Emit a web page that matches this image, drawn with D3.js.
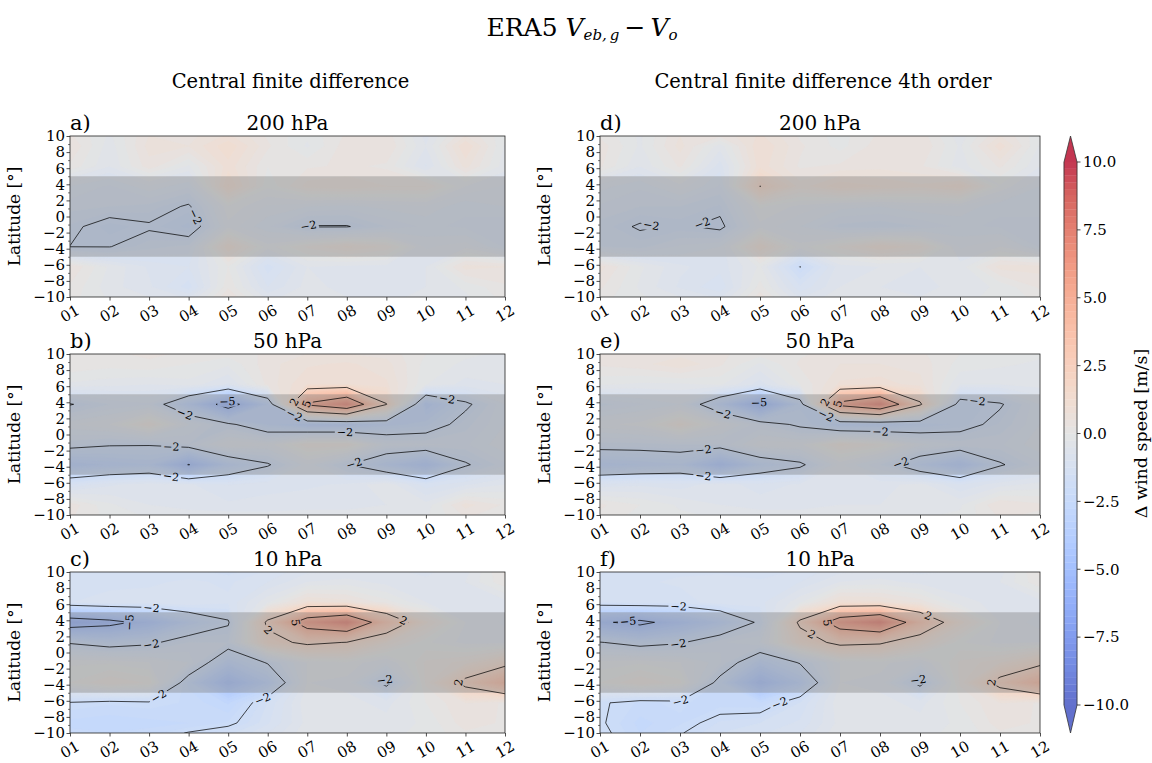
<!DOCTYPE html>
<html>
<head>
<meta charset="utf-8">
<script src="https://cdn.jsdelivr.net/npm/d3@7"></script>
<style>
  body { margin: 0; background: #fff; }
  svg text { font-family: "DejaVu Serif", serif; fill: #000; }
</style>
</head>
<body>
<svg id="chart" width="1152" height="763"></svg>
<script>
// ---- data -------------------------------------------------------------
const months = ["01","02","03","04","05","06","07","08","09","10","11","12"];
const monthNums = d3.range(1, 13);
// latitude of each grid row (top row first)
const lats = [10, 8.75, 6.25, 3.75, 1.25, -1.25, -3.75, -6.25, -8.75, -10];
const latTicks = d3.range(-10, 11, 2);
const latMinor = d3.range(-9, 10, 2);
const fillLevels = d3.range(0, 81).map(i => -10 + i * 0.25);
const lineLevels = [-5, -2, 2, 5];
const cbarTicks = [-10, -7.5, -5, -2.5, 0, 2.5, 5, 7.5, 10];
const bandLats = [-5, 5];
const columnTitles = ["Central finite difference", "Central finite difference 4th order"];
const levelTitles = ["200 hPa", "50 hPa", "10 hPa"];
const letters = ["a)", "b)", "c)", "d)", "e)", "f)"];

// V_eb,g - V_o [m/s], rows = lats, columns = months
const cfd200 = [
  [ 0.3, -0.3,  0.5,  0.4,  0.8,  0.2, -0.2,  0.3,  0.4, -0.6,  0.5, -0.2],
  [ 0.5, -0.4,  0.6,  0.5,  1.2,  0.3, -0.3,  0.4,  0.5, -0.5,  1.0, -0.3],
  [ 0.2, -0.5,  0.4, -0.3,  0.9,  0.0,  0.2,  0.3,  0.2, -0.8,  0.6, -0.4],
  [-1.0, -1.3, -0.8, -1.2,  1.3, -0.2,  0.6,  0.7,  0.5,  0.5, -0.5, -0.8],
  [-1.4, -1.5, -1.6, -2.1, -0.3, -0.8, -1.0, -1.1, -0.9, -0.8, -1.2, -1.0],
  [-1.8, -2.4, -2.1, -2.6, -0.6, -1.2, -2.05,-2.05,-1.5, -1.2, -1.3, -1.5],
  [-2.01,-2.02,-1.6, -1.4,  1.0, -0.4,  0.3,  0.8,  0.4, -0.8, -0.6, -1.3],
  [ 0.5, -0.3, -0.8, -1.0,  0.0, -1.4, -0.5, -0.6, -0.6, -0.5,  0.6,  0.5],
  [ 0.2, -0.4, -0.7, -1.4,  0.2, -1.0, -0.4, -0.6, -0.7, -0.5, -0.2,  0.2],
  [ 0.1, -0.3, -0.5, -0.8,  0.5, -0.6, -0.3, -0.5, -0.6, -0.4, -0.3,  0.1]
];
const cfd50 = [
  [ 0.2,  0.2,  0.3,  0.2,  0.1,  0.3,  0.5,  0.5,  0.4,  0.0, -0.2, -0.3],
  [ 0.2,  0.1,  0.2,  0.0, -0.2,  0.4,  0.7,  0.8,  0.6, -0.1, -0.3, -0.4],
  [-0.3, -0.4, -0.5, -0.34,-0.8,  0.33, 1.0,  1.0,  0.8, -0.24,-0.6, -0.5],
  [-2.05,-1.5, -1.3, -3.2, -5.8, -3.0,  5.3,  7.2,  2.05,-3.5, -2.2, -1.0],
  [-0.8, -0.5,  0.5, -0.98,-1.8, -2.8, -3.5, -3.5, -2.9, -2.6, -1.6, -1.0],
  [-1.67,-1.92,-1.95,-1.51,-0.5, -0.7,  0.45, 0.45,-1.15,-1.2, -1.3, -0.8],
  [-3.5, -3.2, -3.0, -5.05,-3.0, -2.1, -0.8, -1.95,-3.0, -4.0, -2.1, -1.3],
  [-1.23,-0.8, -0.62,-0.71,-1.0, -0.8, -0.8, -0.7, -0.3, -1.14,-0.8, -0.5],
  [ 0.4, -0.2, -0.5, -0.6, -0.7, -0.7, -0.6, -0.6, -0.5, -0.4,  0.6,  0.2],
  [ 0.3, -0.1, -0.3, -0.4, -0.4, -0.4, -0.4, -0.4, -0.3, -0.3,  0.3,  0.1]
];
const cfd10 = [
  [-1.5, -1.5, -1.5, -1.4, -1.6, -1.2, -0.8, -0.7, -0.7, -0.8, -0.6,  0.3],
  [-1.4, -1.4, -1.3, -1.2, -1.3, -1.0, -0.5, -0.4, -0.6, -0.7, -0.5,  0.2],
  [-1.27,-1.05,-1.12,-1.0, -1.2, -0.3,  0.82, 0.63, 0.1, -0.5, -0.7, -0.6],
  [-6.0, -5.5, -4.5, -3.0, -2.1,  2.3,  6.2,  7.5,  3.5,  0.82,-0.5, -0.8],
  [-2.1, -2.5, -2.2, -1.48,-1.5,  1.5,  2.3,  1.95, 0.72,-0.2, -0.6, -0.6],
  [-0.3, -0.3, -0.5, -1.0, -3.0, -1.92,-0.5, -0.3, -0.8,  0.3,  0.6,  1.5],
  [ 0.0,  0.5,  0.2, -2.6, -4.8, -3.2, -0.5, -0.6, -2.3,  0.3,  2.4,  4.2],
  [-2.05,-2.2, -2.1, -2.3, -2.8, -1.49,-0.3, -0.4, -0.6,  0.0,  0.5,  0.2],
  [-2.6, -2.7, -2.6, -2.5, -2.2, -1.3, -0.4, -0.3, -0.4, -0.2,  0.4,  0.2],
  [-2.4, -2.5, -2.4, -1.95,-1.6, -1.0, -0.3, -0.3, -0.3, -0.2,  0.2,  0.1]
];
const cfd4th200 = [
  [ 0.2, -0.3,  0.5,  0.3,  0.8,  0.2, -0.1,  0.3,  0.4, -0.4,  0.5, -0.2],
  [ 0.4, -0.3,  0.6, -0.4,  1.0,  0.3, -0.1,  0.4,  0.5, -0.3,  0.9, -0.3],
  [ 0.3, -0.5,  0.3, -0.9,  0.9,  0.2,  0.3,  0.4,  0.3, -0.4,  0.3, -0.5],
  [-0.9, -1.2, -0.6, -1.3,  2.02, 0.6,  1.2,  1.0,  0.8,  1.2, -0.3, -1.0],
  [-1.3, -1.5, -1.5, -1.8, -0.2, -0.6, -0.9, -1.0, -0.8, -0.8, -1.2, -1.1],
  [-1.6, -2.1, -1.9, -2.2, -0.6, -1.0, -1.6, -1.7, -1.5, -1.2, -1.3, -1.4],
  [-1.5, -1.6, -1.2, -1.0,  1.0, -0.4,  0.3,  1.0,  0.6, -0.8, -0.5, -1.3],
  [ 0.6, -0.2, -0.7, -0.9, -0.2, -2.02,-0.6, -0.5, -0.5, -0.4,  0.6,  0.6],
  [ 0.3, -0.3, -0.8, -1.2,  0.1, -1.2, -0.5, -0.5, -0.6, -0.4, -0.2,  0.3],
  [ 0.1, -0.2, -0.5, -0.8,  0.4, -0.8, -0.3, -0.4, -0.5, -0.3, -0.2,  0.1]
];
const cfd4th50 = [
  [ 0.3,  0.3,  0.4,  0.3,  0.1,  0.2,  0.4,  0.4,  0.3,  0.0, -0.2, -0.2],
  [ 0.3,  0.4,  0.7,  0.3, -0.3,  0.3,  0.5,  0.5,  0.4, -0.1, -0.2, -0.3],
  [-0.2, -0.3, -0.3, -0.2, -0.9,  0.0,  0.8,  0.9,  0.6, -0.5, -0.5, -0.4],
  [-1.6, -1.3, -1.0, -3.0, -5.5, -2.6,  5.6,  7.5,  2.2, -2.5, -2.1, -1.0],
  [-0.6, -0.4,  0.6, -0.5, -1.45,-2.2, -3.2, -3.2, -2.8, -2.4, -1.7, -1.0],
  [-1.6, -1.6, -1.5, -1.5, -0.6, -0.6,  0.6,  0.2, -0.9, -1.3, -1.3, -0.8],
  [-3.2, -3.0, -2.8, -4.5, -2.8, -2.2, -0.7, -1.5, -2.8, -3.8, -2.1, -1.3],
  [-0.9, -0.8, -0.9, -0.6, -0.9, -0.7, -0.7, -0.6, -0.4, -1.0, -0.6, -0.4],
  [ 0.3,  0.0, -0.3, -0.5, -0.6, -0.6, -0.5, -0.5, -0.4, -0.3,  0.5,  0.3],
  [ 0.2, -0.1, -0.2, -0.3, -0.4, -0.4, -0.4, -0.4, -0.3, -0.2,  0.3,  0.2]
];
const cfd4th10 = [
  [-1.4, -1.4, -1.3, -1.3, -1.4, -1.2, -0.8, -0.7, -0.8, -0.7, -0.6,  0.3],
  [-1.3, -1.3, -1.2, -1.1, -1.2, -1.0, -0.5, -0.4, -0.6, -0.7, -0.5,  0.2],
  [-1.5, -1.3, -1.4, -1.1, -1.1, -0.3,  0.9,  0.8,  0.4, -0.4, -0.6, -0.6],
  [-4.8, -5.4, -4.3, -3.2, -1.8,  2.3,  6.3,  7.6,  3.6,  0.9, -0.5, -0.9],
  [-1.95,-2.4, -2.1, -1.3, -1.0,  1.2,  2.4,  2.2,  1.0, -0.2, -0.6, -0.5],
  [-0.4, -0.3, -0.5, -1.2, -3.0, -1.92,-0.5, -0.4, -0.8,  0.3,  0.7,  1.6],
  [ 0.0,  0.5,  0.1, -2.4, -4.8, -3.2, -0.5, -0.6, -2.3,  0.3,  2.5,  4.3],
  [-1.9, -2.3, -2.2, -2.4, -2.5, -1.5, -0.3, -0.4, -0.6,  0.0,  0.5,  0.2],
  [-1.9, -2.6, -2.3, -1.7, -1.5, -1.2, -0.4, -0.3, -0.4, -0.2,  0.4,  0.2],
  [-1.8, -2.5, -2.05,-1.5, -1.3, -1.0, -0.3, -0.3, -0.3, -0.2,  0.2,  0.1]
];

// ---- colour map (cool-warm diverging) --------------------------------
const coolwarmStops = [
  [59,76,192],[77,104,215],[98,130,234],[119,154,247],[141,176,254],
  [163,194,255],[184,208,249],[204,217,238],[221,221,221],[236,211,197],
  [245,196,173],[247,177,148],[244,154,123],[236,127,99],[222,96,77],
  [203,62,56],[180,4,38]
];
const cmap = d3.piecewise(d3.interpolateRgb, coolwarmStops.map(c => `rgb(${c})`));
const norm = d3.scaleLinear().domain([-10, 10]).range([0, 1]).clamp(true);
const fillAlpha = 0.8;
const colorOf = v => d3.interpolateRgb("#ffffff", cmap(norm(v)))(fillAlpha);
const minus = s => String(s).replace("-", "\u2212");

// ---- layout -------------------------------------------------------------
const svg = d3.select("#chart");
const colX = [[70, 505], [600, 1040]];
const rowY = [[136, 297], [354, 515], [572, 733]];
const defs = svg.append("defs");
const tickFont = 15;

const panels = [
  {data: cfd200,    col: 0, row: 0},
  {data: cfd50,     col: 0, row: 1},
  {data: cfd10,     col: 0, row: 2},
  {data: cfd4th200, col: 1, row: 0},
  {data: cfd4th50,  col: 1, row: 1},
  {data: cfd4th10,  col: 1, row: 2}
];

// split a closed contour ring into open polylines, dropping the pieces
// that run along the edge of the data domain
function ringToLines(pts) {
  const onEdge = (a, b) =>
    (a[0] === 1 && b[0] === 1) || (a[0] === 12 && b[0] === 12) ||
    (a[1] === 10 && b[1] === 10) || (a[1] === -10 && b[1] === -10);
  const n = pts.length - 1;
  let start = -1;
  for (let i = 0; i < n; i++) if (onEdge(pts[i], pts[i + 1])) { start = i; break; }
  if (start < 0) return [pts];
  const out = [];
  let cur = [];
  for (let k = 0; k < n; k++) {
    const i = (start + 1 + k) % n;
    if (onEdge(pts[i], pts[i + 1])) {
      if (cur.length > 1) out.push(cur);
      cur = [];
    } else {
      if (!cur.length) cur.push(pts[i]);
      cur.push(pts[i + 1]);
    }
  }
  if (cur.length > 1) out.push(cur);
  return out;
}

function placeLabels(px, level, labelG, maskG) {
  const cum = [0];
  for (let i = 1; i < px.length; i++)
    cum.push(cum[i - 1] + Math.hypot(px[i][0] - px[i - 1][0], px[i][1] - px[i - 1][1]));
  const total = cum[cum.length - 1];
  if (total < 26) return;
  const at = t => {
    t = Math.max(0, Math.min(total, t));
    let i = d3.bisectRight(cum, t) - 1;
    i = Math.max(0, Math.min(px.length - 2, i));
    const seg = cum[i + 1] - cum[i] || 1;
    const f = (t - cum[i]) / seg;
    return [px[i][0] + f * (px[i + 1][0] - px[i][0]), px[i][1] + f * (px[i + 1][1] - px[i][1])];
  };
  const count = Math.max(1, Math.floor(total / 150));
  for (let k = 0; k < count; k++) {
    const t = total * (k + 0.5) / count;
    const p = at(t), a = at(t - 6), b = at(t + 6);
    let ang = Math.atan2(b[1] - a[1], b[0] - a[0]) * 180 / Math.PI;
    if (ang > 90) ang -= 180;
    if (ang < -90) ang += 180;
    const tr = `translate(${p[0]},${p[1]}) rotate(${ang})`;
    const txt = labelG.append("text")
      .attr("transform", tr)
      .attr("text-anchor", "middle")
      .attr("dy", "0.36em")
      .attr("font-size", 11)
      .text(minus(level));
    const w = txt.node().getComputedTextLength();
    maskG.append("rect")
      .attr("x", -w / 2 - 2).attr("y", -5.5)
      .attr("width", w + 4).attr("height", 11)
      .attr("transform", tr)
      .attr("fill", "#000");
  }
}

panels.forEach((p, idx) => {
  const [x0, x1] = colX[p.col];
  const [y0, y1] = rowY[p.row];
  const x = d3.scaleLinear().domain([1, 12]).range([x0, x1]);
  const y = d3.scaleLinear().domain([-10, 10]).range([y1, y0]);
  const nx = months.length, ny = lats.length;
  // grid coordinates -> month / latitude
  const colS = d3.scaleLinear().domain([0.5, nx - 0.5]).range([1, 12]).clamp(true);
  const rowS = d3.scaleLinear().domain(d3.range(ny).map(i => i + 0.5)).range(lats).clamp(true);
  const values = p.data.flat();
  const gen = d3.contours().size([nx, ny]);
  const proj = d3.geoTransform({
    point(gx, gy) { this.stream.point(x(colS(gx)), y(rowS(gy))); }
  });
  const path = d3.geoPath(proj);

  const clipId = `clip${idx}`;
  defs.append("clipPath").attr("id", clipId)
    .append("rect").attr("x", x0).attr("y", y0).attr("width", x1 - x0).attr("height", y1 - y0);

  const g = svg.append("g");
  const fills = g.append("g").attr("clip-path", `url(#${clipId})`);
  fillLevels.slice(0, -1).forEach(t => {
    const c = gen.contour(values, t);
    if (!c.coordinates.length) return;
    const col = colorOf(t + 0.125);
    fills.append("path").attr("d", path(c))
      .attr("fill", col).attr("stroke", col).attr("stroke-width", 0.4);
  });

  // equatorial band
  g.append("rect")
    .attr("x", x0).attr("width", x1 - x0)
    .attr("y", y(bandLats[1])).attr("height", y(bandLats[0]) - y(bandLats[1]))
    .attr("fill", "#808080").attr("fill-opacity", 0.4);

  // contour lines with inline labels
  const maskId = `mask${idx}`;
  const mask = defs.append("mask").attr("id", maskId)
    .attr("maskUnits", "userSpaceOnUse")
    .attr("x", 0).attr("y", 0).attr("width", 1152).attr("height", 763);
  mask.append("rect").attr("width", 1152).attr("height", 763).attr("fill", "#fff");
  const lineWrap = g.append("g").attr("clip-path", `url(#${clipId})`);
  const lines = lineWrap.append("g").attr("mask", `url(#${maskId})`);
  const labelG = g.append("g");
  const lineGen = d3.line();
  lineLevels.forEach(L => {
    const c = gen.contour(values, L);
    c.coordinates.forEach(poly => poly.forEach(ring => {
      const pts = ring.map(([gx, gy]) => [colS(gx), rowS(gy)]);
      ringToLines(pts).forEach(ln => {
        const px = ln.map(([m, l]) => [x(m), y(l)]);
        lines.append("path").attr("d", lineGen(px))
          .attr("fill", "none").attr("stroke", "#000")
          .attr("stroke-width", 0.9).attr("stroke-opacity", 0.8);
        placeLabels(px, L, labelG, mask);
      });
    }));
  });

  // axes
  const xAxis = d3.axisBottom(x).tickValues(monthNums)
    .tickFormat((d, i) => months[i]).tickSize(3.5).tickSizeOuter(0);
  const gx = g.append("g").attr("transform", `translate(0,${y1})`).call(xAxis);
  gx.select(".domain").remove();
  gx.selectAll("line").attr("stroke", "#222").attr("stroke-width", 0.8);
  gx.selectAll("text")
    .attr("font-family", "DejaVu Serif").attr("font-size", tickFont)
    .attr("text-anchor", "end").attr("y", 0).attr("dy", "0.71em")
    .attr("transform", "translate(5,7) rotate(-30)");

  const yAxis = d3.axisLeft(y).tickValues(latTicks)
    .tickFormat(d => minus(d)).tickSize(3.5).tickSizeOuter(0);
  const gy = g.append("g").attr("transform", `translate(${x0},0)`).call(yAxis);
  gy.select(".domain").remove();
  gy.selectAll("line").attr("stroke", "#222").attr("stroke-width", 0.8);
  gy.selectAll("text").attr("font-family", "DejaVu Serif").attr("font-size", tickFont).attr("x", -5);

  const gyMinor = g.append("g").attr("transform", `translate(${x0},0)`)
    .call(d3.axisLeft(y).tickValues(latMinor).tickFormat("").tickSize(2).tickSizeOuter(0));
  gyMinor.select(".domain").remove();
  gyMinor.selectAll("line").attr("stroke", "#222").attr("stroke-width", 0.6);

  g.append("rect").attr("x", x0).attr("y", y0)
    .attr("width", x1 - x0).attr("height", y1 - y0)
    .attr("fill", "none").attr("stroke", "#222").attr("stroke-width", 0.8);

  g.append("text")
    .attr("transform", `translate(${x0 - 50},${(y0 + y1) / 2}) rotate(-90)`)
    .attr("text-anchor", "middle").attr("font-size", 17)
    .text("Latitude [°]");

  g.append("text").attr("x", (x0 + x1) / 2).attr("y", y0 - 6)
    .attr("text-anchor", "middle").attr("font-size", 20)
    .text(levelTitles[p.row]);
  g.append("text").attr("x", x0).attr("y", y0 - 6)
    .attr("font-size", 21)
    .text(letters[idx]);
});

// column headings
colX.forEach(([x0, x1], i) => {
  svg.append("text").attr("x", (x0 + x1) / 2 + 3).attr("y", 88)
    .attr("text-anchor", "middle").attr("font-size", 19.5)
    .text(columnTitles[i]);
});

// main title
const title = svg.append("text").attr("x", 582).attr("y", 36)
  .attr("text-anchor", "middle").attr("font-size", 25);
title.append("tspan").text("ERA5 ");
title.append("tspan").attr("font-style", "italic").text("V");
title.append("tspan").attr("font-style", "italic").attr("font-size", 15).attr("dy", 4).text("eb,\u2009g");
title.append("tspan").attr("dy", -4).text("\u2009\u2212\u2009");
title.append("tspan").attr("font-style", "italic").text("V");
title.append("tspan").attr("font-style", "italic").attr("font-size", 15).attr("dy", 4).text("o");

// ---- colour bar ----------------------------------------------------------
const cbX0 = 1064, cbX1 = 1077;
const cbY = d3.scaleLinear().domain([-10, 10]).range([705, 162]);
const cb = svg.append("g");
fillLevels.slice(0, -1).forEach(t => {
  const col = colorOf(t + 0.125);
  cb.append("rect").attr("x", cbX0).attr("width", cbX1 - cbX0)
    .attr("y", cbY(t + 0.25)).attr("height", cbY(t) - cbY(t + 0.25))
    .attr("fill", col).attr("stroke", col).attr("stroke-width", 0.3);
});
const cbMid = (cbX0 + cbX1) / 2;
cb.append("path")
  .attr("d", `M${cbX0},${cbY(10)}L${cbMid},${cbY(10) - 26}L${cbX1},${cbY(10)}Z`)
  .attr("fill", colorOf(10));
cb.append("path")
  .attr("d", `M${cbX0},${cbY(-10)}L${cbMid},${cbY(-10) + 28}L${cbX1},${cbY(-10)}Z`)
  .attr("fill", colorOf(-10));
cb.append("path")
  .attr("d", `M${cbX0},${cbY(10)}L${cbMid},${cbY(10) - 26}L${cbX1},${cbY(10)}` +
             `L${cbX1},${cbY(-10)}L${cbMid},${cbY(-10) + 28}L${cbX0},${cbY(-10)}Z`)
  .attr("fill", "none").attr("stroke", "#333").attr("stroke-width", 0.8);
cbarTicks.forEach(v => {
  cb.append("line").attr("x1", cbX1).attr("x2", cbX1 + 3.5)
    .attr("y1", cbY(v)).attr("y2", cbY(v))
    .attr("stroke", "#222").attr("stroke-width", 0.8);
  cb.append("text").attr("x", cbX1 + 6).attr("y", cbY(v)).attr("dy", "0.35em")
    .attr("font-size", tickFont).text(minus(v.toFixed(1)));
});
cb.append("text")
  .attr("transform", `translate(1141,${cbY(0)}) rotate(-90)`)
  .attr("text-anchor", "middle").attr("dy", "0.35em").attr("font-size", 17.5)
  .text("\u0394 wind speed [m/s]");
</script>
</body>
</html>
